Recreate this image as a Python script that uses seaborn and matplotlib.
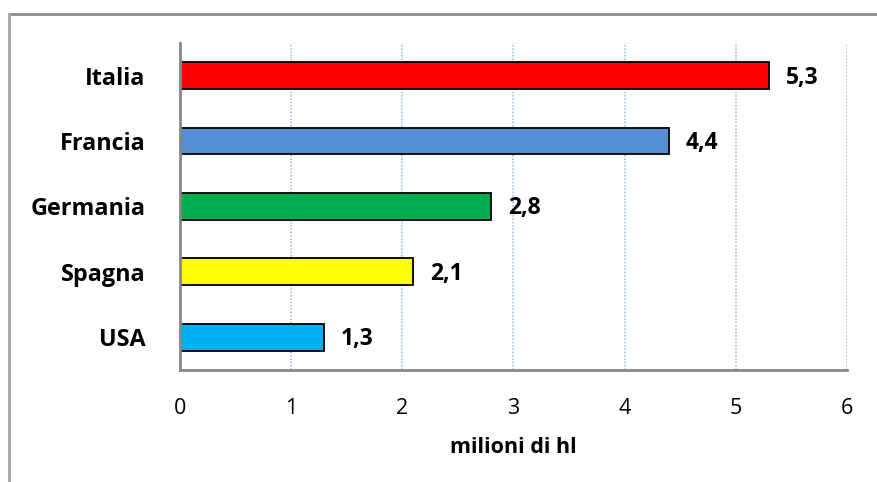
import matplotlib
matplotlib.use("Agg")
import matplotlib.pyplot as plt
import seaborn as sns
import pandas as pd
from matplotlib.lines import Line2D

countries = ["Italia", "Francia", "Germania", "Spagna", "USA"]
values = [5.3, 4.4, 2.8, 2.1, 1.3]
colors = ["#FF0000", "#558ED5", "#00B050", "#FFFF00", "#00B0F0"]
xticks = [0, 1, 2, 3, 4, 5, 6]
xlabel = "milioni di hl"

sns.set_theme(style="white")
plt.rcParams['font.family'] = ['Open Sans', 'DejaVu Sans']
plt.rcParams['text.color'] = 'black'
plt.rcParams['axes.labelcolor'] = 'black'
plt.rcParams['xtick.color'] = 'black'
plt.rcParams['ytick.color'] = 'black'

df = pd.DataFrame({"paese": countries, "valore": values})

fig = plt.figure(figsize=(8.77, 4.82), dpi=100)
ax = fig.add_axes([0.2052, 0.2324, 0.7605, 0.6784])

sns.barplot(data=df, x="valore", y="paese", hue="paese", palette=colors,
            order=countries, hue_order=countries, legend=False, ax=ax,
            width=0.41, edgecolor="black", linewidth=1.3, saturation=1)

ax.set_xlim(0, 6)
ax.set_xticks(xticks)
ax.set_xticklabels([str(t) for t in xticks], fontsize=15.5)
ax.set_ylabel("")
ax.set_xlabel(xlabel, fontsize=15.5, fontweight="bold", labelpad=13)
ax.tick_params(axis="x", length=0, pad=20)
ax.tick_params(axis="y", length=0, pad=25)
for lab in ax.get_yticklabels():
    lab.set_fontweight("bold")
    lab.set_fontsize(16.8)

ax.grid(False)
for t in xticks[1:]:
    ax.axvline(t, color="#A9C0E4", linestyle=(0, (1, 1)), linewidth=1.2, zorder=0)

for s in ["top", "right"]:
    ax.spines[s].set_visible(False)
for s in ["left", "bottom"]:
    ax.spines[s].set_color("#868686")
    ax.spines[s].set_linewidth(2)

for i, v in enumerate(values):
    ax.text(v + 0.15, i + 0.03, f"{v:.1f}".replace(".", ","), va="center", ha="left",
            fontsize=16.5, fontweight="bold")

# outer border (top and left visible)
fig.add_artist(Line2D([9/877, 1], [1 - 14/482, 1 - 14/482], transform=fig.transFigure,
                      color="#8C8C8C", linewidth=2))
fig.add_artist(Line2D([9/877, 9/877], [0, 1 - 14/482], transform=fig.transFigure,
                      color="#A6A6A6", linewidth=2))

fig.savefig("out.png", dpi=100)
